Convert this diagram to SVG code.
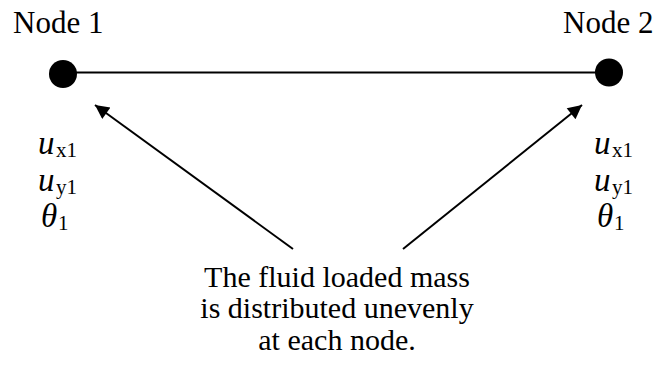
<svg xmlns="http://www.w3.org/2000/svg" width="655" height="368" viewBox="0 0 655 368">
<defs>
<marker id="ah" viewBox="0 0 10 10" markerWidth="18" markerHeight="14" refX="10" refY="5" orient="auto" markerUnits="userSpaceOnUse"><path d="M0,0 L10,5 L0,10 z" fill="#000"/></marker>
</defs>
<style>
text{font-family:"Liberation Serif","Times New Roman",serif;font-size:31px;fill:#000}
.it{font-style:italic;font-size:33px}
.sub{font-size:21px}
.lbl{font-size:30px}
</style>
<g id="connectors" stroke="#000" stroke-width="2" fill="none">
<line x1="63" y1="72.5" x2="609" y2="72.5"/>
<line x1="293" y1="249" x2="95" y2="105" marker-end="url(#ah)"/>
<line x1="403" y1="249" x2="582" y2="105" marker-end="url(#ah)"/>
</g>
<g id="node1">
<circle cx="63" cy="74" r="14" fill="#000"/>
<text x="13" y="33">Node 1</text>
<text class="it" x="38" y="154">u</text><text class="sub" x="56" y="157">x1</text>
<text class="it" x="38" y="191">u</text><text class="sub" x="56" y="194">y1</text>
<text class="it" x="41" y="227">θ</text><text class="sub" x="58" y="230">1</text>
</g>
<g id="node2">
<circle cx="609" cy="72.5" r="14" fill="#000"/>
<text x="563" y="33">Node 2</text>
<text class="it" x="594" y="154">u</text><text class="sub" x="612" y="157">x1</text>
<text class="it" x="594" y="191">u</text><text class="sub" x="612" y="194">y1</text>
<text class="it" x="597" y="227">θ</text><text class="sub" x="614" y="230">1</text>
</g>
<g id="label" text-anchor="middle">
<text class="lbl" x="337" y="287">The fluid loaded mass</text>
<text class="lbl" x="337" y="318">is distributed unevenly</text>
<text class="lbl" x="337" y="350">at each node.</text>
</g>
</svg>
